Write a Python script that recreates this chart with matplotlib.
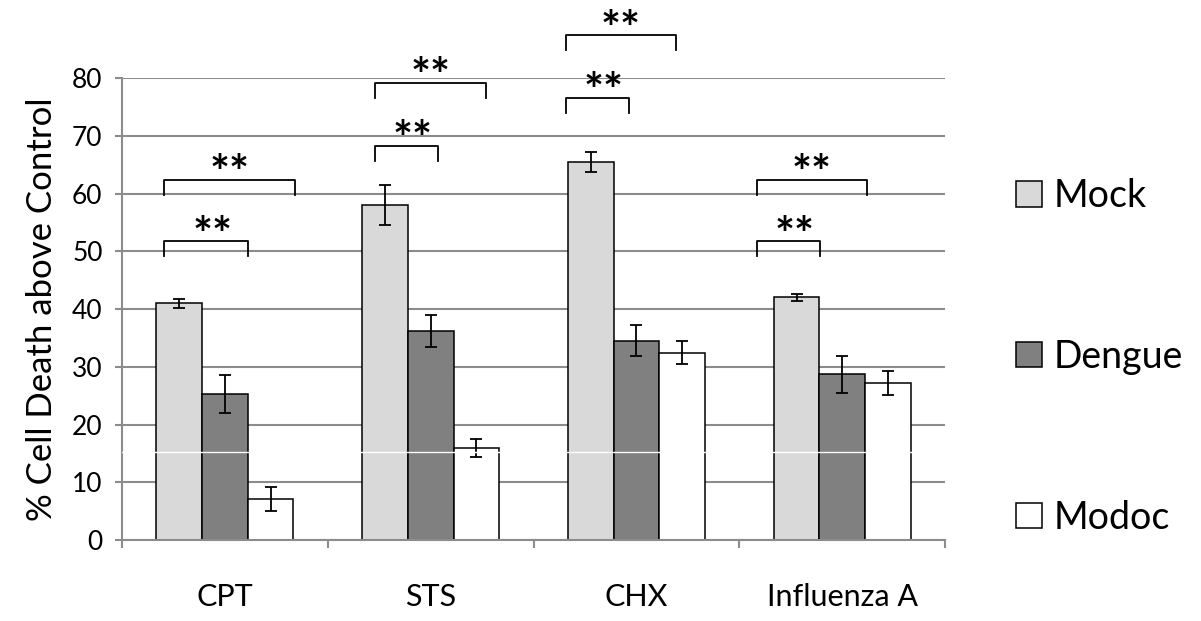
import matplotlib.pyplot as plt
from matplotlib.patches import Patch
import numpy as np

plt.rcParams['font.family'] = ['Lato', 'DejaVu Sans']

# treatments and infection groups
treatments = ['CPT', 'STS', 'CHX', 'Influenza A']
groups = ['Mock', 'Dengue', 'Modoc']
colors = ['#d9d9d9', '#808080', '#ffffff']

# % cell death above control (mean, error)
mock = [41.0, 58.0, 65.5, 42.0]
mock_err = [0.8, 3.5, 1.7, 0.6]
dengue = [25.3, 36.2, 34.5, 28.7]
dengue_err = [3.3, 2.8, 2.7, 3.2]
modoc = [7.1, 15.9, 32.4, 27.2]
modoc_err = [2.1, 1.6, 2.0, 2.1]

# significance brackets per treatment: left x, inner right x, outer right x (offsets from group center)
br_left = [-0.295, -0.270, -0.342, -0.416]
br_inner_right = [0.111, 0.037, -0.035, -0.107]
br_outer_right = [0.340, 0.268, 0.192, 0.121]
br_inner_top = [51.7, 68.3, 76.6, 51.7]
br_outer_top = [62.4, 79.1, 87.4, 62.4]
br_leg = 2.6

grid_color = '#8c8c8c'

fig = plt.figure(figsize=(12.01, 6.21), dpi=100)
ax = fig.add_axes([0.1016, 0.1304, 0.6853, 0.7440])

x = np.arange(len(treatments))
width = 0.222
series = [(mock, mock_err), (dengue, dengue_err), (modoc, modoc_err)]
for k, (vals, errs) in enumerate(series):
    pos = x + (k - 1) * width
    ax.bar(pos, vals, width, color=colors[k], edgecolor='black', linewidth=1.1,
           zorder=2, label=groups[k])
    ax.errorbar(pos, vals, yerr=errs, fmt='none', ecolor='black', elinewidth=1.3,
                capsize=4.6, capthick=1.3, zorder=3)

# significance brackets with stars
star_size = 34
for i in range(len(treatments)):
    for right, top, dx in [(br_inner_right[i], br_inner_top[i], 0.03),
                           (br_outer_right[i], br_outer_top[i], 0.0)]:
        xl, xr = i + br_left[i], i + right
        ax.plot([xl, xl, xr, xr], [top - br_leg, top, top, top - br_leg],
                color='black', linewidth=1.3, clip_on=False, zorder=4)
        ax.text((xl + xr) / 2 + dx, top - 1.6, '**', ha='center', va='baseline',
                fontsize=star_size, fontweight='bold', clip_on=False)

ax.set_xlim(-0.5, 3.5)
ax.set_ylim(0, 80)
ax.set_yticks(np.arange(0, 81, 10))
ax.yaxis.grid(True, color=grid_color, linewidth=1.5)
ax.set_axisbelow(True)

ax.set_xticks(np.arange(-0.5, 3.6, 1.0))
ax.set_xticklabels([])
ax.set_xticks(x, minor=True)
ax.set_xticklabels(treatments, minor=True)
ax.tick_params(axis='x', which='major', length=6, width=1.5, color=grid_color, direction='out')
ax.tick_params(axis='x', which='minor', length=0, pad=31, labelsize=22)
ax.tick_params(axis='y', length=5, width=1.5, color=grid_color, pad=9, labelsize=19)

for side in ['top', 'right']:
    ax.spines[side].set_visible(False)
for side in ['left', 'bottom']:
    ax.spines[side].set_color(grid_color)
    ax.spines[side].set_linewidth(1.5)

# thin white seam across the plot
ax.axhline(15.2, color='white', linewidth=1.0, zorder=5)

ax.set_ylabel('% Cell Death above Control', fontsize=25, labelpad=10)

handles = [Patch(facecolor=c, edgecolor='black', linewidth=1.1) for c in colors]
fig.legend(handles, groups, loc='upper left', bbox_to_anchor=(0.818, 0.768),
           frameon=False, fontsize=27, handlelength=0.68, handleheight=0.68,
           handletextpad=0.33, labelspacing=3.33)

fig.savefig('out.png', dpi=100)
